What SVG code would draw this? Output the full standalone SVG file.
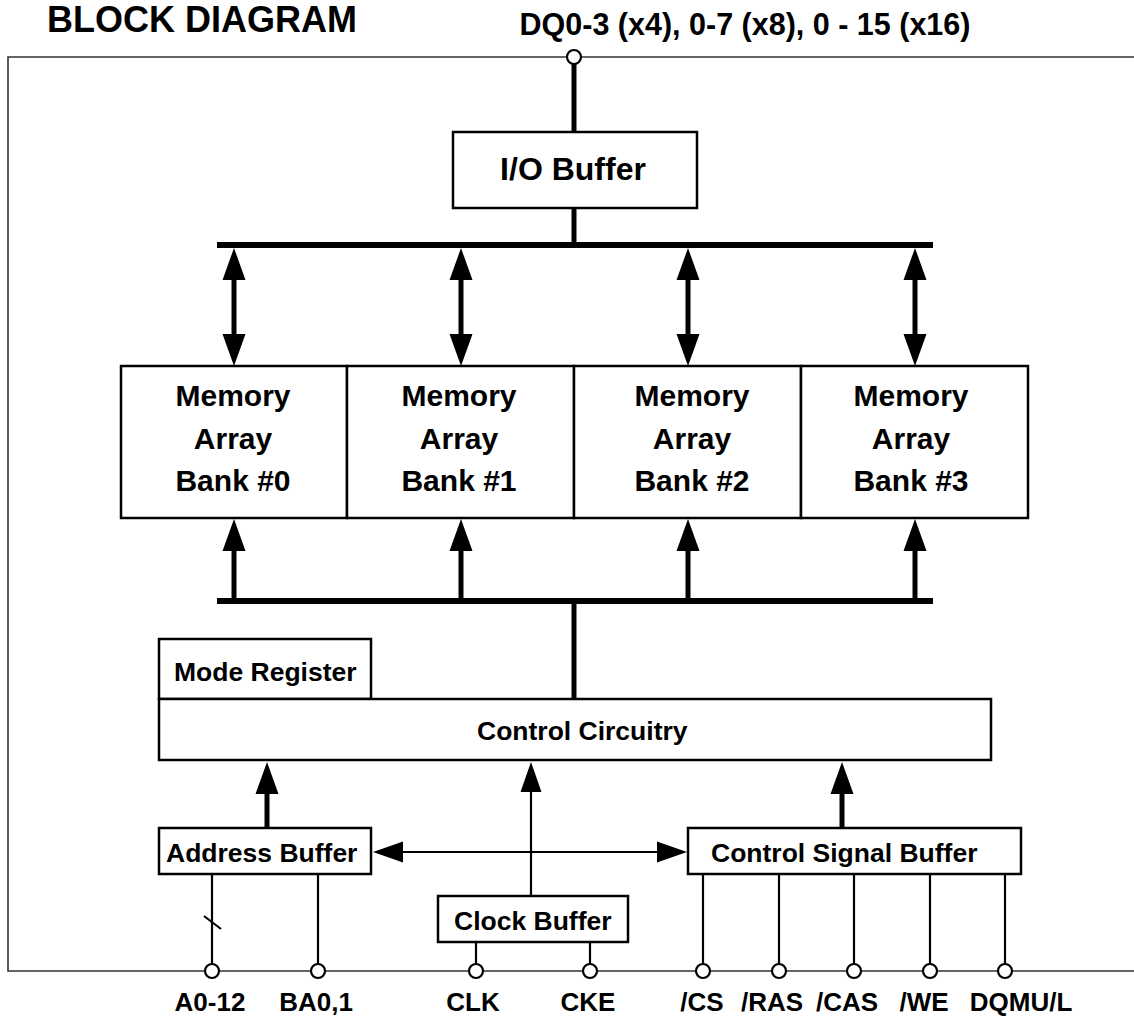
<svg xmlns="http://www.w3.org/2000/svg" width="1134" height="1017" viewBox="0 0 1134 1017">
<style>
text{font-family:"Liberation Sans",Arial,sans-serif;font-weight:bold;fill:#000}
.box{fill:#fff;stroke:#000;stroke-width:2.5}
.frame{fill:none;stroke:#333;stroke-width:1.6}
.thick{stroke:#000;stroke-width:5;fill:none}
.bus{stroke:#000;stroke-width:6;fill:none}
.thin{stroke:#000;stroke-width:2.2;fill:none}
.pin{fill:#fff;stroke:#000;stroke-width:2.2}
.bank{font-size:30px}
.lbl{font-size:26.5px}
.pinlbl{font-size:26px}
</style>
<defs>
<path id="head" d="M0,0 L-11.5,32 L11.5,32 z" fill="#000"/>
<path id="heads" d="M0,0 L-10.5,30 L10.5,30 z" fill="#000"/>
</defs>
<text x="47" y="32" style="font-size:36px">BLOCK DIAGRAM</text>
<text x="745" y="35" text-anchor="middle" style="font-size:30.5px">DQ0-3 (x4), 0-7 (x8), 0 - 15 (x16)</text>
<g id="frame"><path class="frame" d="M1134,57 H8 V971 H1134"/></g>
<g id="connectors">
<line class="thick" x1="574" y1="63" x2="574" y2="132"/>
<line class="thick" x1="574" y1="208" x2="574" y2="245"/>
<line class="bus" x1="217" y1="245" x2="933" y2="245"/>
<line class="bus" x1="217" y1="601" x2="933" y2="601"/>
<line class="thick" x1="574" y1="601" x2="574" y2="699"/>
<g id="bank-arrows-top">
<line class="thick" x1="234" y1="270" x2="234" y2="345"/><use href="#head" x="234" y="248"/><use href="#head" transform="translate(234,366) rotate(180)"/>
<line class="thick" x1="461" y1="270" x2="461" y2="345"/><use href="#head" x="461" y="248"/><use href="#head" transform="translate(461,366) rotate(180)"/>
<line class="thick" x1="688" y1="270" x2="688" y2="345"/><use href="#head" x="688" y="248"/><use href="#head" transform="translate(688,366) rotate(180)"/>
<line class="thick" x1="915" y1="270" x2="915" y2="345"/><use href="#head" x="915" y="248"/><use href="#head" transform="translate(915,366) rotate(180)"/>
</g>
<g id="bank-arrows-bottom">
<line class="thick" x1="234" y1="600" x2="234" y2="540"/><use href="#head" x="234" y="519"/>
<line class="thick" x1="461" y1="600" x2="461" y2="540"/><use href="#head" x="461" y="519"/>
<line class="thick" x1="688" y1="600" x2="688" y2="540"/><use href="#head" x="688" y="519"/>
<line class="thick" x1="915" y1="600" x2="915" y2="540"/><use href="#head" x="915" y="519"/>
</g>
<line class="thick" x1="267" y1="828" x2="267" y2="785"/><use href="#head" x="267" y="762"/>
<line class="thick" x1="842" y1="828" x2="842" y2="785"/><use href="#head" x="842" y="762"/>
<line class="thin" x1="531" y1="896" x2="531" y2="785"/><use href="#heads" x="531" y="762"/>
<line class="thin" x1="395" y1="852" x2="666" y2="852"/>
<use href="#heads" transform="translate(373,852) rotate(-90)"/>
<use href="#heads" transform="translate(687,852) rotate(90)"/>
<line class="thin" x1="212" y1="874" x2="212" y2="964"/>
<line class="thin" x1="204" y1="916" x2="221" y2="929"/>
<line class="thin" x1="318" y1="874" x2="318" y2="964"/>
<line class="thin" x1="476" y1="942" x2="476" y2="964"/>
<line class="thin" x1="590" y1="942" x2="590" y2="964"/>
<line class="thin" x1="703" y1="874" x2="703" y2="964"/>
<line class="thin" x1="779" y1="874" x2="779" y2="964"/>
<line class="thin" x1="854" y1="874" x2="854" y2="964"/>
<line class="thin" x1="930" y1="874" x2="930" y2="964"/>
<line class="thin" x1="1005" y1="874" x2="1005" y2="964"/>
</g>
<g id="pins">
<circle class="pin" cx="574" cy="57" r="7"/>
<circle class="pin" cx="212" cy="971" r="7"/>
<circle class="pin" cx="318" cy="971" r="7"/>
<circle class="pin" cx="476" cy="971" r="7"/>
<circle class="pin" cx="590" cy="971" r="7"/>
<circle class="pin" cx="703" cy="971" r="7"/>
<circle class="pin" cx="779" cy="971" r="7"/>
<circle class="pin" cx="854" cy="971" r="7"/>
<circle class="pin" cx="930" cy="971" r="7"/>
<circle class="pin" cx="1005" cy="971" r="7"/>
</g>
<g id="io-buffer"><rect class="box" x="453" y="132" width="244" height="76"/><text x="573" y="180" text-anchor="middle" style="font-size:32px">I/O Buffer</text></g>
<g id="bank0"><rect class="box" x="121" y="366" width="226" height="152"/><text class="bank" text-anchor="middle"><tspan x="233" y="406">Memory</tspan><tspan x="233" y="449">Array</tspan><tspan x="233" y="491">Bank #0</tspan></text></g>
<g id="bank1"><rect class="box" x="347" y="366" width="227" height="152"/><text class="bank" text-anchor="middle"><tspan x="459" y="406">Memory</tspan><tspan x="459" y="449">Array</tspan><tspan x="459" y="491">Bank #1</tspan></text></g>
<g id="bank2"><rect class="box" x="574" y="366" width="227" height="152"/><text class="bank" text-anchor="middle"><tspan x="692" y="406">Memory</tspan><tspan x="692" y="449">Array</tspan><tspan x="692" y="491">Bank #2</tspan></text></g>
<g id="bank3"><rect class="box" x="801" y="366" width="227" height="152"/><text class="bank" text-anchor="middle"><tspan x="911" y="406">Memory</tspan><tspan x="911" y="449">Array</tspan><tspan x="911" y="491">Bank #3</tspan></text></g>
<g id="mode-register"><rect class="box" x="159" y="639" width="212" height="60"/><text class="lbl" x="174" y="681">Mode Register</text></g>
<g id="control-circuitry"><rect class="box" x="159" y="699" width="832" height="61"/><text class="lbl" x="477" y="740">Control Circuitry</text></g>
<g id="address-buffer"><rect class="box" x="159" y="828" width="212" height="46"/><text class="lbl" x="166" y="862">Address Buffer</text></g>
<g id="control-signal-buffer"><rect class="box" x="688" y="828" width="333" height="46"/><text class="lbl" x="711" y="862">Control Signal Buffer</text></g>
<g id="clock-buffer"><rect class="box" x="438" y="896" width="190" height="46"/><text class="lbl" x="454" y="930">Clock Buffer</text></g>
<g id="pin-labels">
<text class="pinlbl" x="210" y="1011" text-anchor="middle">A0-12</text>
<text class="pinlbl" x="316" y="1011" text-anchor="middle">BA0,1</text>
<text class="pinlbl" x="473" y="1011" text-anchor="middle">CLK</text>
<text class="pinlbl" x="588" y="1011" text-anchor="middle">CKE</text>
<text class="pinlbl" x="702" y="1011" text-anchor="middle">/CS</text>
<text class="pinlbl" x="772" y="1011" text-anchor="middle">/RAS</text>
<text class="pinlbl" x="847" y="1011" text-anchor="middle">/CAS</text>
<text class="pinlbl" x="924" y="1011" text-anchor="middle">/WE</text>
<text class="pinlbl" x="1021" y="1011" text-anchor="middle">DQMU/L</text>
</g>
</svg>
